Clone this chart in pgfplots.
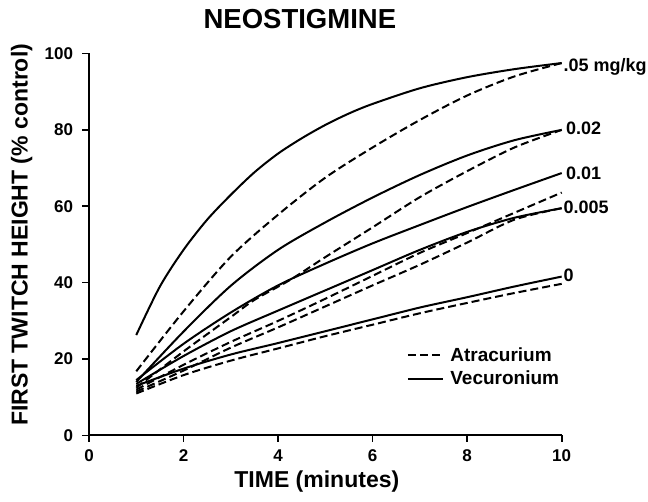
\documentclass[border=0pt]{standalone}
\usepackage{pgfplots}
\pgfplotsset{compat=1.18}
\usepackage{fontspec}
\setmainfont{Liberation Sans}
\begin{document}
\begin{tikzpicture}
\path[use as bounding box] (-89pt,-66.5pt) rectangle (559pt,435.5pt);
\begin{axis}[
  at={(0,0)}, anchor=south west,
  scale only axis, width=472.7pt, height=382pt,
  xmin=0, xmax=10, ymin=0, ymax=100,
  axis x line*=bottom, axis y line*=left,
  axis line style={line width=2pt, -},
  xtick={0,2,4,6,8,10}, ytick={0,20,40,60,80,100},
  tick align=outside,
  major tick length=6.5pt,
  tick style={line width=1.6pt, black},
  /pgf/number format/assume math mode=true,
  tick label style={font=\fontsize{17}{19}\selectfont\bfseries},
  yticklabel style={xshift=-6pt},
  xticklabel style={yshift=-4pt},
  xlabel={TIME (minutes)},
  ylabel={FIRST TWITCH HEIGHT (\% control)},
  xlabel style={at={(axis description cs:0.482,-0.135)}, anchor=base, font=\fontsize{23}{26}\selectfont\bfseries},
  ylabel style={at={(axis description cs:-0.130,0.525)}, anchor=base, rotate=0, font=\fontsize{23}{26}\selectfont\bfseries},
  title={NEOSTIGMINE},
  title style={at={(axis description cs:0.446,1)}, anchor=base, yshift=19pt, font=\fontsize{27.5}{30}\selectfont\bfseries},
  legend style={draw=none, fill=none, inner sep=0pt, at={(axis cs:6.72,23.5)}, anchor=north west,
    font=\fontsize{19}{21}\selectfont\bfseries, row sep=5.5pt, nodes={inner sep=1.5pt},
    /tikz/every odd column/.append style={column sep=5pt}},
  legend cell align=left,
  legend image code/.code={\draw[#1] (0pt,0pt) -- (35pt,0pt);},
  every axis plot/.append style={line width=2pt, black, smooth},
  clip=false,
]
\addlegendimage{line width=2pt, dash pattern=on 8pt off 4pt}
\addlegendentry{Atracurium}
\addlegendimage{line width=2pt}
\addlegendentry{Vecuronium}

% Vecuronium (solid)
\addplot[forget plot] coordinates {(1,26.3)(1.5,39)(2,48.6)(2.5,56.5)(3,63)(3.5,68.9)(4,73.8)(4.5,77.8)(5,81.3)(5.5,84.3)(6,86.8)(7,90.9)(8,93.8)(9,95.9)(10,97.5)};
\addplot[forget plot] coordinates {(1,14)(2,27.2)(3,39.2)(4,48.6)(5,55.8)(6,62.3)(7,68.2)(8,73.3)(9,77.3)(10,80)};
\addplot[forget plot] coordinates {(1,14.5)(2,24)(3,32.2)(4,39.3)(5,45)(6,50.3)(7,55.1)(8,59.8)(9,64.3)(10,68.7)};
\addplot[forget plot] coordinates {(1,13.5)(2,20.8)(3,27.3)(4,32.7)(5,38)(6,43.3)(7,48.6)(8,53.3)(9,57)(10,59.5)};
\addplot[forget plot] coordinates {(1,13)(2,17.5)(3,21.2)(4,24.2)(5,27.3)(6,30.4)(7,33.5)(8,36.2)(9,39)(10,41.6)};

% Atracurium (dashed)
\addplot[forget plot, dash pattern=on 8pt off 4pt] coordinates {(1,16.8)(2,32.5)(3,46.8)(4,57.8)(5,67.5)(6,75.4)(7,82.6)(8,89)(9,94)(10,97.5)};
\addplot[forget plot, dash pattern=on 8pt off 4pt] coordinates {(1,12.5)(2,22)(3,31)(3.5,35.5)(4.25,40.7)(5,46.7)(6,54.5)(7,62.4)(8,69.2)(9,75.4)(10,80)};
\addplot[forget plot, dash pattern=on 8pt off 4pt] coordinates {(1,12)(2,18.5)(3,24.5)(4,30)(5,35.8)(6,41.8)(7,47.8)(8,53)(9,58.3)(10,63.6)};
\addplot[forget plot, dash pattern=on 8pt off 4pt] coordinates {(1,11.5)(2,17)(3,23)(4,28.3)(5,33.8)(6,39.3)(7,44.7)(8,50.5)(9,56.5)(10,59.5)};
\addplot[forget plot, dash pattern=on 8pt off 4pt] coordinates {(1,11)(2,15.8)(3,19.6)(4,22.8)(5,26)(6,29)(7,32)(8,34.7)(9,37.3)(10,39.7)};

\begin{scope}[every node/.style={anchor=base west, inner sep=0pt, font=\fontsize{18}{20}\selectfont\bfseries}]
\node at (axis cs:10,95.3) [xshift=1.6pt] {.05 mg/kg};
\node at (axis cs:10,78.9) [xshift=4.3pt] {0.02};
\node at (axis cs:10,67.1) [xshift=4.3pt] {0.01};
\node at (axis cs:10,58.2) [xshift=1.6pt] {0.005};
\node at (axis cs:10,40.3) [xshift=1.6pt] {0};
\end{scope}
\end{axis}
\end{tikzpicture}
\end{document}
